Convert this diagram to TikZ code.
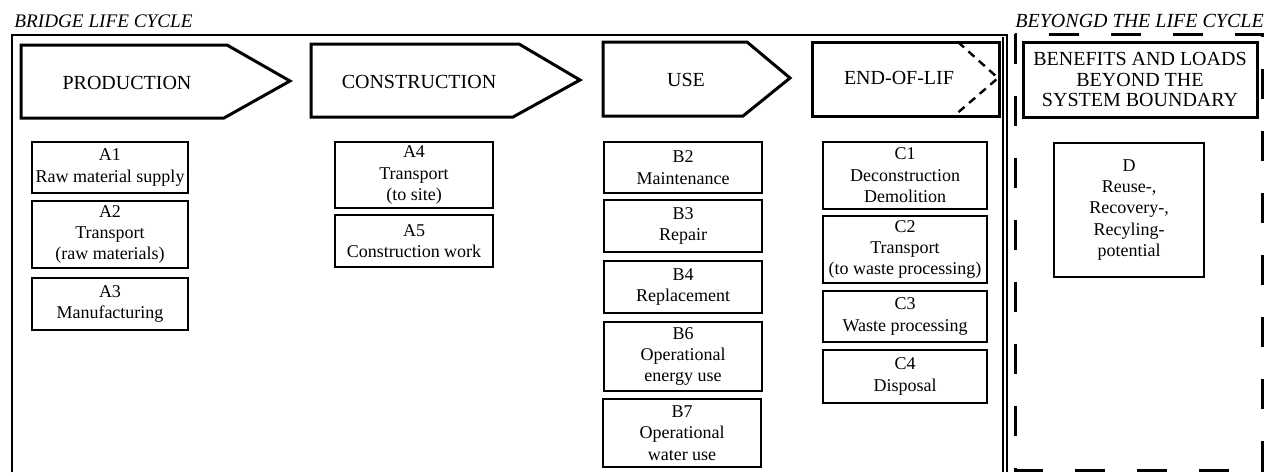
\documentclass[tikz,border=0pt]{standalone}
\usepackage{fontspec}
\setmainfont{Liberation Serif}
\usetikzlibrary{calc}
\newcommand{\modbox}[6]{%
  \node[module,minimum width={(#4-#2)*0.5pt},minimum height={(#5-#3)*0.5pt}]
    (#1) at ({(#2+#4)/2},{(#3+#5)/2}) {#6};}
\tikzset{
  frame/.style={draw=black,line width=1.1pt},
  stage/.style={draw=black,line width=1.5pt,line join=miter},
  boundary/.style={draw=black,line width=1.5pt,dash pattern=on 15pt off 16pt},
  module/.style={draw=black,line width=1.1pt,align=center,inner sep=0pt,
    font=\fontsize{9}{10.7}\selectfont},
  head/.style={font=\fontsize{10}{10.3}\selectfont,align=center,inner sep=0pt},
  title/.style={font=\fontsize{9.6}{12}\selectfont\itshape,anchor=west,inner sep=0pt},
}

\begin{document}
\begin{tikzpicture}[x=0.5pt,y=-0.5pt]
\useasboundingbox (0,0) rectangle (1274,472);
% frames
\draw[frame] (12,472) -- (12,35) -- (1007,35) -- (1007,472);
\draw[frame] (1003,37) -- (1003,472);
\draw[boundary] (1015,34) rectangle (1262,470);
\node[title] (bridge) at (14,21) {BRIDGE LIFE CYCLE};
\node[title,font=\fontsize{10}{12}\selectfont\itshape] (beyond) at (1015,21) {BEYONGD THE LIFE CYCLE};

% stages
\draw[stage] (21,45) -- (227,45) -- (290,81) -- (224,118) -- (21,118) -- cycle;
\node[head] (prod) at (127,83) {PRODUCTION};
\draw[stage] (311,44) -- (519,44) -- (580,80) -- (513,117) -- (311,117) -- cycle;
\node[head] (cons) at (419,82) {CONSTRUCTION};
\draw[stage] (603,42) -- (747,42) -- (790,78) -- (743,116) -- (603,116) -- cycle;
\node[head] (use) at (686,80) {USE};
\draw[stage] (812,42) rectangle (999,116);
\draw[stage,line width=1.2pt,dash pattern=on 4pt off 3pt] (958,42) -- (998,78) -- (954,116);
\node[head] (eol) at (899,78) {END-OF-LIF};
\node[stage,head,minimum width=117pt,minimum height=37.5pt] (ben) at (1140,79.5)
  {BENEFITS AND LOADS\\BEYOND THE\\SYSTEM BOUNDARY};

% modules
\modbox{a1}{32}{142}{188}{193}{A1\\Raw material supply}
\modbox{a2}{32}{201}{188}{268}{A2\\Transport\\(raw materials)}
\modbox{a3}{32}{278}{188}{330}{A3\\Manufacturing}
\modbox{a4}{335}{142}{493}{208}{A4\\Transport\\(to site)}
\modbox{a5}{335}{215}{493}{267}{A5\\Construction work}
\modbox{b2}{604}{142}{762}{193}{B2\\Maintenance}
\modbox{b3}{604}{200}{762}{252}{B3\\Repair}
\modbox{b4}{604}{261}{762}{313}{B4\\Replacement}
\modbox{b6}{604}{322}{762}{391}{B6\\Operational\\energy use}
\modbox{b7}{603}{399}{761}{467}{B7\\Operational\\water use}
\modbox{c1}{823}{142}{987}{209}{C1\\Deconstruction\\Demolition}
\modbox{c2}{823}{216}{987}{283}{C2\\Transport\\(to waste processing)}
\modbox{c3}{823}{291}{987}{342}{C3\\Waste processing}
\modbox{c4}{823}{350}{987}{403}{C4\\Disposal}
\modbox{d}{1054}{143}{1204}{277}{D\\Reuse-,\\Recovery-,\\Recyling-\\potential}
\end{tikzpicture}
\end{document}
